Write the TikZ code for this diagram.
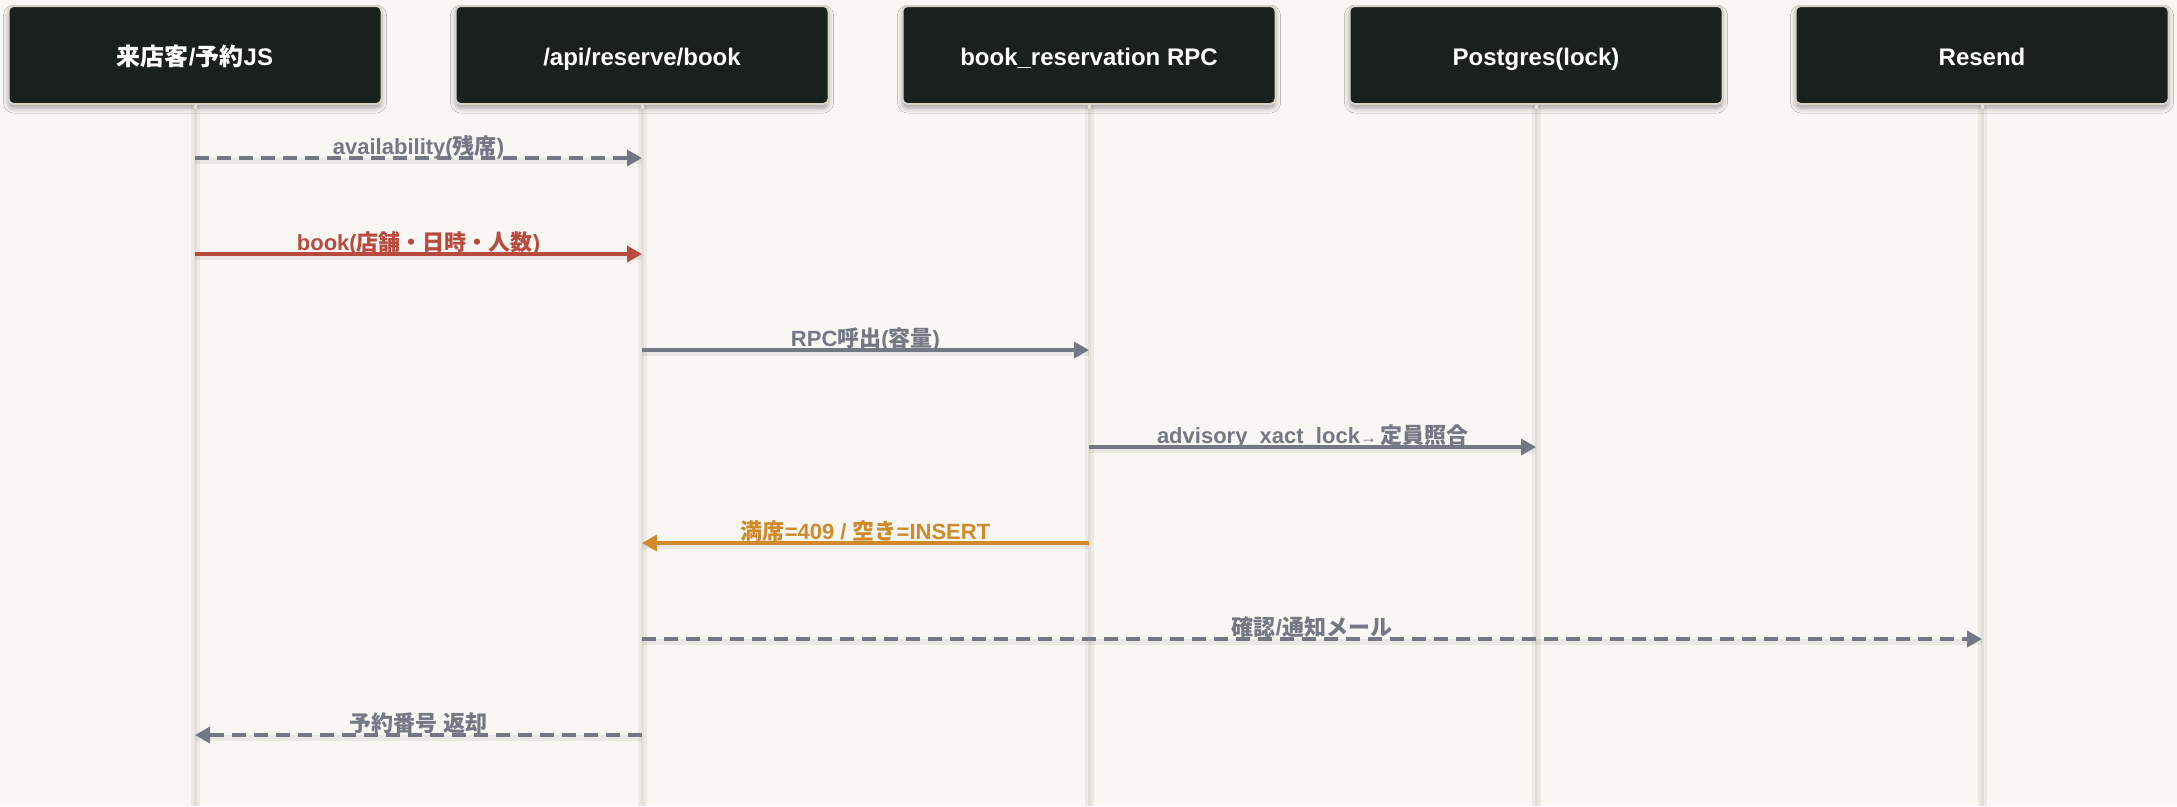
\documentclass[tikz,border=0pt]{standalone}
\usepackage{fontspec}
\setmainfont{Liberation Sans}
\newfontfamily\cjk{Noto Sans CJK JP}
\usetikzlibrary{arrows.meta,shadows.blur}
\definecolor{bg}{HTML}{F8F7F4}
\definecolor{boxfill}{HTML}{1A201E}
\definecolor{boxline}{HTML}{D9D3C7}
\definecolor{life}{HTML}{E4DFD6}
\definecolor{lifesh}{HTML}{D8D3CA}
\definecolor{gmsg}{HTML}{737884}
\definecolor{rmsg}{HTML}{B94A3E}
\definecolor{omsg}{HTML}{D08A2A}
\tikzset{
  actor/.style={draw=boxline, line width=2pt, fill=boxfill, rounded corners=5pt,
    minimum width=373pt, minimum height=98pt,
    blur shadow={shadow xshift=0pt, shadow yshift=-4pt, shadow blur radius=5pt, shadow opacity=35}},
  actortext/.style={anchor=base, text=white, font=\fontsize{24}{28}\selectfont\bfseries, inner sep=0pt},
  lifeline/.style={line width=3pt, draw=life},
  lifeshadow/.style={line width=9pt, draw=lifesh, opacity=0.35},
  msg/.style={line width=3.5pt, -{Triangle[length=15pt,width=16pt]}},
  msgdash/.style={msg, dash pattern=on 14pt off 8pt},
  msgshadow/.style={line width=6pt, draw=black, opacity=0.06},
  lbl/.style={anchor=base, font=\fontsize{22}{26}\selectfont\bfseries, inner sep=0pt}
}
\newcommand{\jp}[1]{{\cjk\bfseries #1}}
\begin{document}
\begin{tikzpicture}[x=1pt,y=-1pt]
\fill[bg] (0,0) rectangle (2177,806);
\useasboundingbox (0,0) rectangle (2177,806);
% lifelines
\foreach \x in {195,642,1089,1536,1982}{
  \draw[lifeshadow] (\x,100) -- (\x,806);
  \draw[lifeline] (\x,100) -- (\x,806);
}
% actors
\node[actor] (a) at (195,55) {};
\node[actor] (b) at (642,55) {};
\node[actor] (c) at (1089,55) {};
\node[actor] (d) at (1536,55) {};
\node[actor] (e) at (1982,55) {};
\node[actortext] (at) at (195,65) {\jp{来店客}/\jp{予約}JS};
\node[actortext] (bt) at (642,65) {/api/reserve/book};
\node[actortext] (ct) at (1089,65) {book\_reservation RPC};
\node[actortext] (dt) at (1536,65) {Postgres(lock)};
\node[actortext] (et) at (1982,65) {Resend};
\foreach \n in {a,b,c,d,e}{ \draw[lifeline] (\n.south) -- ++(0,4); }
% message shadows
\foreach \ya/\xa/\xb in {161/195/642, 257/195/642, 353/642/1089, 450/1089/1536, 546/642/1089, 642/642/1982, 738/195/642}{
  \draw[msgshadow] (\xa,\ya) -- (\xb,\ya);
}
% messages
\draw[msgdash, gmsg] (a.south |- 0,158) -- (b.south |- 0,158)
  node[lbl, text=gmsg, pos=0.5, yshift=4pt] {availability(\jp{残席})};
\draw[msg, rmsg] (a.south |- 0,254) -- (b.south |- 0,254)
  node[lbl, text=rmsg, pos=0.5, yshift=4pt] {book(\jp{店舗・日時・人数})};
\draw[msg, gmsg] (b.south |- 0,350) -- (c.south |- 0,350)
  node[lbl, text=gmsg, pos=0.5, yshift=4pt] {RPC\jp{呼出}(\jp{容量})};
\draw[msg, gmsg] (c.south |- 0,447) -- (d.south |- 0,447)
  node[lbl, text=gmsg, pos=0.5, yshift=4pt] {advisory\_xact\_lock{\mdseries\fontsize{17}{18}\selectfont →}\kern3pt\jp{定員照合}};
\draw[msg, omsg] (c.south |- 0,543) -- (b.south |- 0,543)
  node[lbl, text=omsg, pos=0.5, yshift=4pt] {\jp{満席}=409 / \jp{空き}=INSERT};
\draw[msgdash, gmsg] (b.south |- 0,639) -- (e.south |- 0,639)
  node[lbl, text=gmsg, pos=0.5, yshift=4pt] {\jp{確認}/\jp{通知メール}};
\draw[msgdash, gmsg] (b.south |- 0,735) -- (a.south |- 0,735)
  node[lbl, text=gmsg, pos=0.5, yshift=4pt] {\jp{予約番号 返却}};
\end{tikzpicture}
\end{document}
